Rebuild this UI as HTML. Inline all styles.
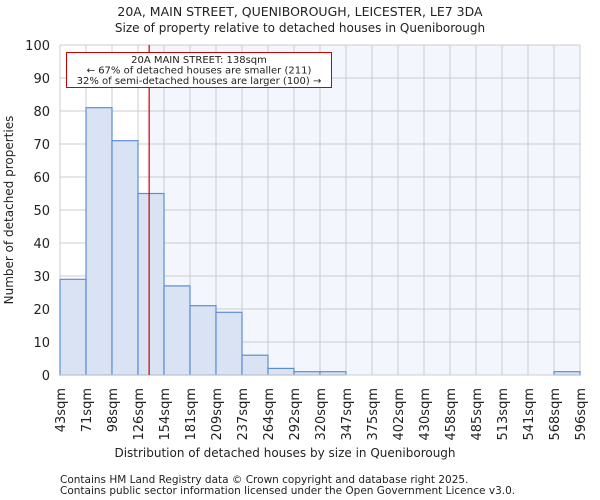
<!DOCTYPE html>
<html><head><meta charset="utf-8"><style>body{margin:0;background:#fff}svg{display:block}text{font-family:"DejaVu Sans","Liberation Sans",sans-serif;fill:#222}</style></head>
<body>
<svg id="c" width="600" height="500">
<text x="300" y="16" text-anchor="middle" font-size="12.5">20A, MAIN STREET, QUENIBOROUGH, LEICESTER, LE7 3DA</text>
<text x="300" y="32" text-anchor="middle" font-size="12">Size of property relative to detached houses in Queniborough</text>
<g id="plot"></g>
<text x="285" y="457" text-anchor="middle" font-size="12">Distribution of detached houses by size in Queniborough</text>
<text transform="translate(13,210) rotate(-90)" text-anchor="middle" font-size="12">Number of detached properties</text>
<text x="60" y="483" font-size="10.5">Contains HM Land Registry data © Crown copyright and database right 2025.</text>
<text x="60" y="494" font-size="10.5">Contains public sector information licensed under the Open Government Licence v3.0.</text>
</svg>
<script>
const binLabels=["43sqm","71sqm","98sqm","126sqm","154sqm","181sqm","209sqm","237sqm","264sqm","292sqm","320sqm","347sqm","375sqm","402sqm","430sqm","458sqm","485sqm","513sqm","541sqm","568sqm","596sqm"];
const binEdges=[43,71,98,126,154,181,209,237,264,292,320,347,375,402,430,458,485,513,541,568,596];
const counts=[29,81,71,55,27,21,19,6,2,1,1,0,0,0,0,0,0,0,0,1];
const yTicks=[0,10,20,30,40,50,60,70,80,90,100];
const propertySize=138;
const L=60,R=580,T=45,B=375;
const NS="http://www.w3.org/2000/svg";
const g=document.getElementById('plot');
const n=counts.length;
const xi=i=>L+(R-L)*i/n;
const xv=v=>{for(let i=0;i<n;i++){if(v<=binEdges[i+1])return xi(i)+(v-binEdges[i])/(binEdges[i+1]-binEdges[i])*(R-L)/n;}return R;};
const y=v=>B-(B-T)*v/100;
function el(t,a){const e=document.createElementNS(NS,t);for(const k in a)e.setAttribute(k,a[k]);g.appendChild(e);return e;}
const px=xv(propertySize);
let e=el('rect',{x:px,y:T,width:R-px,height:B-T,fill:'#f3f6fd'});


yTicks.forEach(t=>{let l=el('line',{x1:L,x2:R,y1:y(t),y2:y(t),stroke:'#ccc','stroke-width':1});


let tx=el('text',{x:L-10,y:y(t)+5,'text-anchor':'end','font-size':13});tx.textContent=t;

});
binLabels.forEach((s,i)=>{let l=el('line',{x1:xi(i),x2:xi(i),y1:T,y2:B,stroke:'#ccc','stroke-width':1});


let tx=el('text',{transform:`translate(${xi(i)+5},388) rotate(-90)`,'text-anchor':'end','font-size':13});tx.textContent=s;

});
counts.forEach((c,i)=>{if(c<=0)return;let r=el('rect',{x:xi(i),y:y(c),width:xi(i+1)-xi(i),height:B-y(c),fill:'#dae3f3',stroke:'#5b8ed8','stroke-width':1.2});

});
let ax=el('line',{x1:L,x2:R,y1:B,y2:B,stroke:'#ccc'});


let ml=el('line',{x1:px,x2:px,y1:T,y2:B,stroke:'#c00','stroke-width':1.2});


let bx=el('rect',{x:66.5,y:52.5,width:265,height:35,fill:'#fff',stroke:'#c00','stroke-width':1});


["20A MAIN STREET: 138sqm","← 67% of detached houses are smaller (211)","32% of semi-detached houses are larger (100) →"].forEach((s,i)=>{let t=el('text',{x:199,y:63+i*10.5,'text-anchor':'middle','font-size':10});t.textContent=s;

});
</script>
</body></html>
